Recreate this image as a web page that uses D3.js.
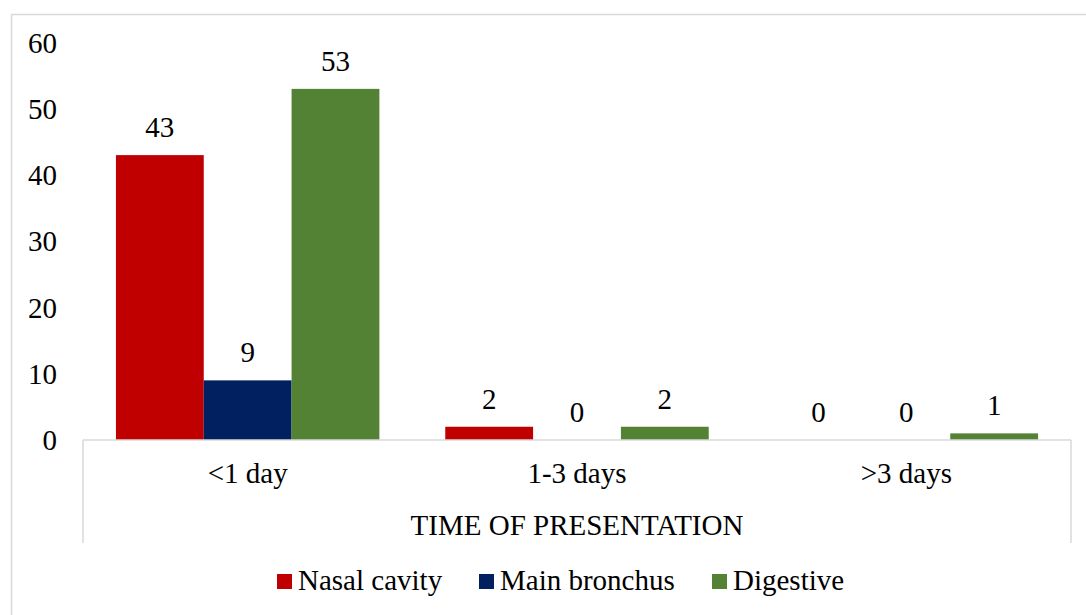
<!DOCTYPE html>
<html>
<head>
<meta charset="utf-8">
<script src="https://cdn.jsdelivr.net/npm/d3@7"></script>
<style>
  html, body { margin: 0; padding: 0; background: #fff; }
  svg { display: block; }
</style>
</head>
<body>
<svg id="chart" width="1086" height="615"></svg>
<script>
// Time of presentation categories and series counts
const categories = ["<1 day", "1-3 days", ">3 days"];
const seriesNames = ["Nasal cavity", "Main bronchus", "Digestive"];
const nasalCavity = [43, 2, 0];
const mainBronchus = [9, 0, 0];
const digestive = [53, 2, 1];
const yTicks = [0, 10, 20, 30, 40, 50, 60];
const colors = ["#C00000", "#002060", "#548235"];

const seriesValues = [nasalCavity, mainBronchus, digestive];

const svg = d3.select("#chart");
const W = 1086, H = 615;
const plot = { left: 83, right: 1071, top: 42.5, bottom: 440 };
const fontSize = 29;
const fontFamily = '"Liberation Serif"';
const gridColor = "#d9d9d9";

function styleText(sel) {
  return sel.style("font-family", fontFamily)
    .attr("font-size", fontSize)
    .attr("fill", "#000");
}

// Outer chart frame
svg.append("rect")
  .attr("x", 11.5).attr("y", 14.5)
  .attr("width", W).attr("height", H)
  .attr("fill", "#fff")
  .attr("stroke", gridColor).attr("stroke-width", 1.5);

const x0 = d3.scaleBand()
  .domain(categories)
  .range([plot.left, plot.right])
  .paddingInner(0.2).paddingOuter(0.1);

const x1 = d3.scaleBand()
  .domain(seriesNames)
  .range([0, x0.bandwidth()]);

const y = d3.scaleLinear().domain([0, 60]).range([plot.bottom, plot.top]);

// Y axis tick labels (no axis line, no gridlines)
const yAxis = d3.axisLeft(y).tickValues(yTicks).tickSize(0).tickPadding(0);
const yg = svg.append("g").attr("transform", `translate(57,0)`).call(yAxis);
yg.attr("font-family", null).attr("font-size", null);
yg.select(".domain").remove();
styleText(yg.selectAll("text")).attr("dy", "0.33em");

// Bars
const groups = svg.append("g").selectAll("g")
  .data(categories)
  .join("g")
  .attr("transform", d => `translate(${x0(d)},0)`);

const cells = (c, ci) => seriesNames.map((s, si) => ({ s, si, v: seriesValues[si][ci] }));

groups.selectAll("rect")
  .data(cells)
  .join("rect")
  .attr("x", d => x1(d.s))
  .attr("y", d => y(d.v))
  .attr("width", x1.bandwidth())
  .attr("height", d => y(0) - y(d.v))
  .attr("fill", d => colors[d.si]);

// Value labels
styleText(groups.selectAll("text")
  .data(cells)
  .join("text")
  .attr("x", d => x1(d.s) + x1.bandwidth() / 2)
  .attr("y", d => y(d.v) - 18)
  .attr("text-anchor", "middle")
  .text(d => d.v));

// X axis line and outer category dividers
const axisG = svg.append("g").attr("stroke", gridColor).attr("stroke-width", 1.5);
axisG.append("line")
  .attr("x1", plot.left).attr("x2", plot.right)
  .attr("y1", plot.bottom).attr("y2", plot.bottom);
[plot.left, plot.right].forEach(xx => {
  axisG.append("line")
    .attr("x1", xx).attr("x2", xx)
    .attr("y1", plot.bottom).attr("y2", 543);
});

// Category labels
styleText(svg.append("g").selectAll("text")
  .data(categories)
  .join("text")
  .attr("x", d => x0(d) + x0.bandwidth() / 2)
  .attr("y", 483)
  .attr("text-anchor", "middle")
  .text(d => d));

// Axis title
styleText(svg.append("text")
  .attr("x", (plot.left + plot.right) / 2)
  .attr("y", 535)
  .attr("text-anchor", "middle")
  .text("TIME OF PRESENTATION"));

// Legend
const legendItems = [
  { name: seriesNames[0], color: colors[0], x: 277 },
  { name: seriesNames[1], color: colors[1], x: 479 },
  { name: seriesNames[2], color: colors[2], x: 712 }
];
const lg = svg.append("g");
lg.selectAll("rect")
  .data(legendItems)
  .join("rect")
  .attr("x", d => d.x).attr("y", 574)
  .attr("width", 15).attr("height", 15)
  .attr("fill", d => d.color);
styleText(lg.selectAll("text")
  .data(legendItems)
  .join("text")
  .attr("x", d => d.x + 21)
  .attr("y", 590)
  .text(d => d.name));
</script>
</body>
</html>
